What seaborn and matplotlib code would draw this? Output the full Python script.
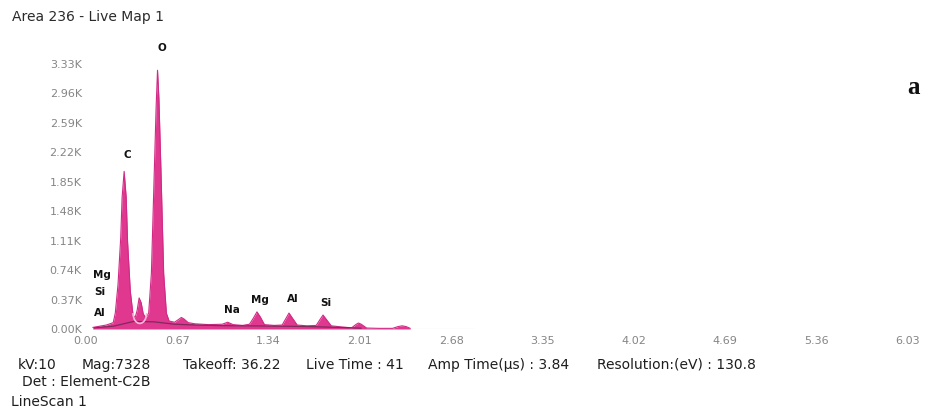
import matplotlib
matplotlib.use("Agg")
import matplotlib.pyplot as plt
from matplotlib.patches import Arc
import seaborn as sns
import pandas as pd

# EDS spectrum: energy (keV) and counts
energy = [0.05, 0.10, 0.15, 0.20, 0.215, 0.235, 0.255, 0.265, 0.280, 0.295,
          0.305, 0.325, 0.345, 0.36, 0.375, 0.390, 0.405, 0.42, 0.44, 0.46,
          0.48, 0.50, 0.515, 0.525, 0.535, 0.55, 0.57, 0.59, 0.61, 0.65,
          0.68, 0.70, 0.72, 0.75, 0.80, 0.90, 1.00, 1.04, 1.08, 1.15,
          1.20, 1.23, 1.255, 1.28, 1.31, 1.38, 1.44, 1.47, 1.49, 1.51,
          1.55, 1.62, 1.69, 1.72, 1.74, 1.76, 1.80, 1.88, 1.95, 1.98,
          2.00, 2.02, 2.06, 2.15, 2.25, 2.29, 2.32, 2.35, 2.38]
counts = [20, 35, 50, 80, 200, 560, 1150, 1650, 1980, 1650,
          1100, 480, 180, 140, 230, 390, 330, 190, 140, 200,
          700, 1900, 2800, 3250, 2900, 2000, 700, 200, 100, 85,
          120, 145, 125, 80, 65, 55, 60, 85, 55, 45,
          60, 140, 215, 150, 55, 45, 50, 140, 200, 150,
          50, 40, 45, 125, 175, 130, 40, 25, 15, 55,
          75, 60, 12, 8, 8, 30, 40, 30, 8]

# fitted background under the peaks
bg_energy = [0.06, 0.20, 0.35, 0.50, 0.65, 0.80, 1.00, 1.30, 1.60, 1.90, 2.02]
bg_counts = [15, 35, 95, 90, 60, 50, 42, 38, 32, 18, 10]

# element labels: (symbol, energy, counts)
peak_labels = [("O", 0.56, 3530), ("C", 0.305, 2190),
               ("Mg", 0.12, 680), ("Si", 0.10, 465), ("Al", 0.10, 200),
               ("Na", 1.07, 240), ("Mg", 1.28, 365), ("Al", 1.52, 375),
               ("Si", 1.76, 330)]

x_ticks = [0.00, 0.67, 1.34, 2.01, 2.68, 3.35, 4.02, 4.69, 5.36, 6.03]
y_ticks = [0, 370, 740, 1110, 1480, 1850, 2220, 2590, 2960, 3330]
y_tick_labels = ["0.00K", "0.37K", "0.74K", "1.11K", "1.48K",
                 "1.85K", "2.22K", "2.59K", "2.96K", "3.33K"]

title = "Area 236 - Live Map 1"
info_items = [("kV:10", 18), ("Mag:7328", 82), ("Takeoff: 36.22", 183),
              ("Live Time : 41", 306), ("Amp Time(\u00b5s) : 3.84", 428),
              ("Resolution:(eV) : 130.8", 597)]
detector = "Det : Element-C2B"
scan = "LineScan 1"
panel = "a"

sns.set_theme(style="white")
plt.rcParams["font.family"] = ["DejaVu Sans"]

W, H = 925, 415
fig = plt.figure(figsize=(W / 100, H / 100), dpi=100)
ax = fig.add_axes([86 / W, 1 - 329 / H, (917 - 86) / W, (329 - 40) / H])

pink = "#e0378f"
spec = pd.DataFrame({"energy": energy, "counts": counts})
ax.fill_between(spec["energy"], 0, spec["counts"], color=pink, lw=0, zorder=2)
sns.lineplot(data=spec, x="energy", y="counts", ax=ax, color="#d02a86",
             lw=0.8, zorder=3)
bg = pd.DataFrame({"energy": bg_energy, "counts": bg_counts})
sns.lineplot(data=bg, x="energy", y="counts", ax=ax, color="#6e2753",
             lw=0.9, alpha=0.85, zorder=4)
ax.plot([2.05, 2.85], [0, 0], color="#dccbd4", lw=0.8, zorder=1)

# region marker around the small peak between C and O
ax.add_patch(Arc((0.395, 200), 0.10, 260, theta1=180, theta2=360,
                 color="#f5bcd8", lw=1.2, zorder=5))

for sym, e, c in peak_labels:
    ax.text(e, c, sym, ha="center", va="center", fontsize=7.5,
            fontweight="bold", color="#111111", zorder=6)

ax.set_xlim(0, 6.1)
ax.set_ylim(0, 3630)
ax.set_xticks(x_ticks)
ax.set_xticklabels([f"{v:.2f}" for v in x_ticks])
ax.set_yticks(y_ticks)
ax.set_yticklabels(y_tick_labels)
ax.tick_params(axis="both", length=0, labelsize=8, labelcolor="#858585")
ax.tick_params(axis="x", pad=5)
ax.tick_params(axis="y", pad=3)
ax.set_xlabel("")
ax.set_ylabel("")
for s in ax.spines.values():
    s.set_visible(False)
ax.grid(False)

fig.text(12 / W, 1 - 17 / H, title, ha="left", va="center", fontsize=10,
         color="#2a2a2a")
for txt, xpx in info_items:
    fig.text(xpx / W, 1 - 365 / H, txt, ha="left", va="center", fontsize=10,
             color="#1e1e1e")
fig.text(22 / W, 1 - 382 / H, detector, ha="left", va="center", fontsize=10,
         color="#1e1e1e")
fig.text(11 / W, 1 - 402 / H, scan, ha="left", va="center", fontsize=10,
         color="#1e1e1e")
fig.text(913 / W, 1 - 87 / H, panel, ha="center", va="center", fontsize=18,
         fontweight="bold", family=["Liberation Serif", "DejaVu Serif"],
         color="#111111")

fig.savefig("out.png", dpi=100)
